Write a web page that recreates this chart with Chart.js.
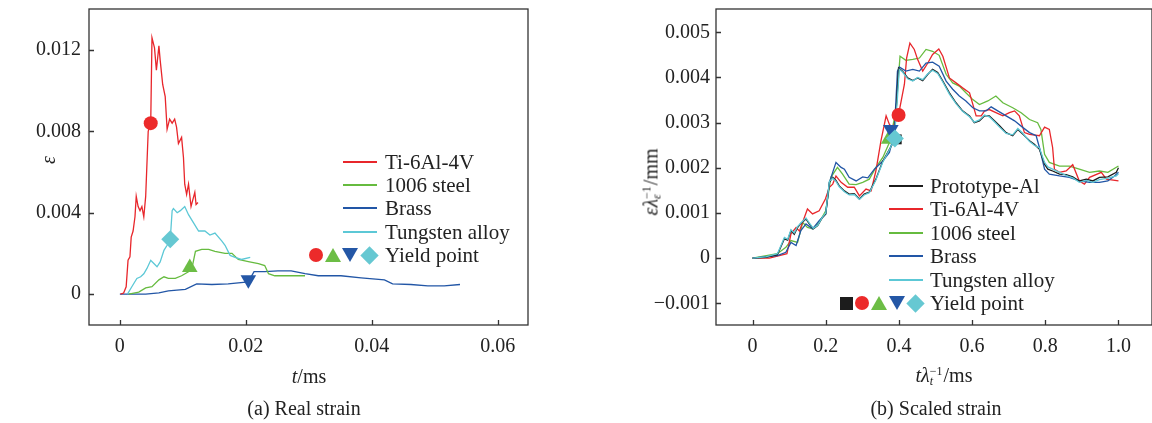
<!DOCTYPE html>
<html>
<head>
<meta charset="utf-8">
<script src="https://cdn.jsdelivr.net/npm/chart.js@4.4.0/dist/chart.umd.min.js"></script>
<style>
  body { margin: 0; width: 1152px; height: 423px; overflow: hidden; position: relative; background: #fff;
         font-family: 'Liberation Serif', 'Times New Roman', serif; color: #222; }
  canvas { position: absolute; top: 0; }
  .txt { position: absolute; font-size: 20px; line-height: 20px; white-space: nowrap; transform: translate(-50%, -50%); }
  .rot { transform: translate(-50%, -50%) rotate(-90deg); }
  .ss { display: inline-flex; flex-direction: column; font-size: 12px; line-height: 10px; vertical-align: 7px; margin-right: 1px; }
  .leg { position: absolute; font-size: 21px; line-height: 20px; white-space: nowrap; }
  .swatch { position: absolute; height: 2px; width: 34px; }
  .mk { position: absolute; }
</style>
</head>
<body>
<canvas id="chartA" width="560" height="423" style="left:0"></canvas>
<canvas id="chartB" width="561" height="423" style="left:600px"></canvas>

<div class="txt rot" style="left:48px;top:160px"><i>ε</i></div>
<div class="txt" style="left:309px;top:376px"><i>t</i>/ms</div>
<div class="txt" style="left:304px;top:408px">(a) Real strain</div>

<div class="txt rot" style="left:651px;top:182px"><i>ε</i><i>λ</i><span class="ss"><span>−1</span><span><i>ε</i></span></span>/mm</div>
<div class="txt" style="left:944px;top:375px"><i>t</i><i>λ</i><span class="ss"><span>−1</span><span><i>t</i></span></span>/ms</div>
<div class="txt" style="left:936px;top:408px">(b) Scaled strain</div>

<div id="legends"></div>

<script>
// ---- (a) real strain, t in ms ----
const tiA_t = [0.0001, 0.0006, 0.0010, 0.0013, 0.0016, 0.0018, 0.0021, 0.0024, 0.0026, 0.0029, 0.0032, 0.0035, 0.0038, 0.0041, 0.0045, 0.0049, 0.0051, 0.0055, 0.0058, 0.0062, 0.0064, 0.0068, 0.0072, 0.0075, 0.0079, 0.0083, 0.0087, 0.0090, 0.0093, 0.0098, 0.0101, 0.0103, 0.0106, 0.0109, 0.0113, 0.0119, 0.0121, 0.0124]
const tiA_e = [0, 0.00005, 0.00036, 0.00166, 0.00183, 0.0028, 0.0031, 0.0038, 0.0048, 0.0043, 0.0041, 0.0043, 0.0038, 0.0048, 0.0080, 0.0084, 0.0126, 0.0121, 0.0110, 0.0122, 0.0115, 0.0103, 0.0097, 0.0081, 0.0086, 0.0084, 0.0086, 0.0082, 0.0074, 0.0077, 0.0067, 0.0054, 0.0049, 0.0054, 0.0043, 0.0050, 0.0044, 0.0045]

const steelA_t = [0.0014, 0.0030, 0.0041, 0.0051, 0.0062, 0.0070, 0.0077, 0.0088, 0.0098, 0.0109, 0.0114, 0.0120, 0.0130, 0.0141, 0.0151, 0.0167, 0.0178, 0.0188, 0.0204, 0.0220, 0.0230, 0.0236, 0.0246, 0.0262, 0.0283, 0.0294]
const steelA_e = [0, 0.0001, 0.0003, 0.00036, 0.0007, 0.00085, 0.00077, 0.00077, 0.0009, 0.0011, 0.0012, 0.0021, 0.0022, 0.0022, 0.0021, 0.0020, 0.0020, 0.0017, 0.0016, 0.0015, 0.0014, 0.0010, 0.0009, 0.0009, 0.0009, 0.0009]

const brassA_t = [0, 0.0041, 0.0062, 0.0077, 0.0104, 0.0122, 0.0146, 0.0172, 0.0204, 0.0213, 0.0230, 0.0251, 0.0272, 0.0294, 0.0315, 0.0351, 0.0383, 0.0420, 0.0433, 0.0462, 0.0489, 0.0515, 0.0540]
const brassA_e = [0, 0, 0.00006, 0.00016, 0.00023, 0.0005, 0.00047, 0.0005, 0.0006, 0.0011, 0.0011, 0.00114, 0.00114, 0.0010, 0.0009, 0.0009, 0.0008, 0.0007, 0.0005, 0.00047, 0.0004, 0.0004, 0.00047]

const tungA_t = [0.0012, 0.0019, 0.0027, 0.0033, 0.0038, 0.0043, 0.0049, 0.0054, 0.0059, 0.0064, 0.0070, 0.0075, 0.0080, 0.0083, 0.0085, 0.0091, 0.0096, 0.0103, 0.0109, 0.0117, 0.0125, 0.0135, 0.0143, 0.0151, 0.0162, 0.0167, 0.0175, 0.0183, 0.0193, 0.0207]
const tungA_e = [0, 0.00036, 0.00077, 0.00085, 0.0010, 0.00126, 0.00166, 0.0015, 0.00134, 0.00158, 0.00215, 0.0024, 0.00268, 0.0041, 0.0042, 0.0040, 0.0041, 0.0043, 0.0039, 0.0035, 0.0031, 0.0031, 0.0029, 0.0030, 0.0026, 0.0024, 0.0019, 0.0018, 0.0017, 0.0018]

// yield points (a): Ti-6Al-4V, 1006 steel, Brass, Tungsten alloy
const yieldA_t = [0.0049, 0.0111, 0.0204, 0.0080]
const yieldA_e = [0.0084, 0.0013, 0.0007, 0.0027]

const xTicksA = [0, 0.02, 0.04, 0.06]
const xLabelsA = ['0', '0.02', '0.04', '0.06']
const yTicksA = [0, 0.004, 0.008, 0.012]
const yLabelsA = ['0', '0.004', '0.008', '0.012']

// ---- (b) scaled strain ----
const protoB_x = [0, 0.036, 0.068, 0.087, 0.096, 0.105, 0.114, 0.123, 0.132, 0.146, 0.155, 0.166, 0.178, 0.191, 0.2, 0.210, 0.219, 0.228, 0.237, 0.251, 0.264, 0.278, 0.292, 0.305, 0.319, 0.337, 0.356, 0.374, 0.387, 0.394, 0.399, 0.410, 0.424, 0.438, 0.451, 0.465, 0.479, 0.492, 0.506, 0.520, 0.538, 0.556, 0.574, 0.593, 0.606, 0.620, 0.634, 0.647, 0.661, 0.675, 0.693, 0.711, 0.725, 0.739, 0.757, 0.770, 0.784, 0.798, 0.807, 0.820, 0.839, 0.857, 0.875, 0.893, 0.912, 0.930, 0.948, 0.971, 0.994, 1.0]
const protoB_y = [0, 0.00002, 0.00008, 0.00043, 0.00040, 0.00061, 0.00053, 0.00068, 0.00077, 0.00087, 0.00076, 0.00065, 0.00072, 0.0009, 0.00098, 0.00168, 0.00179, 0.00172, 0.0016, 0.00149, 0.00142, 0.00143, 0.00131, 0.00142, 0.00146, 0.00175, 0.00215, 0.00241, 0.0026, 0.00348, 0.00421, 0.00414, 0.00399, 0.00393, 0.00399, 0.00393, 0.00407, 0.00418, 0.00411, 0.00392, 0.00366, 0.00344, 0.00326, 0.00315, 0.00300, 0.00304, 0.00315, 0.00315, 0.00304, 0.00293, 0.00278, 0.00271, 0.00285, 0.00274, 0.0026, 0.00252, 0.00241, 0.00208, 0.00197, 0.00193, 0.00186, 0.00185, 0.0018, 0.00171, 0.00175, 0.00171, 0.00179, 0.0018, 0.0019, 0.00200]

const tiB_x = [0, 0.046, 0.094, 0.105, 0.119, 0.128, 0.150, 0.164, 0.182, 0.199, 0.210, 0.219, 0.228, 0.242, 0.260, 0.278, 0.292, 0.310, 0.324, 0.337, 0.351, 0.365, 0.374, 0.383, 0.399, 0.415, 0.421, 0.430, 0.442, 0.451, 0.465, 0.479, 0.492, 0.509, 0.520, 0.538, 0.556, 0.574, 0.593, 0.611, 0.625, 0.634, 0.647, 0.665, 0.684, 0.702, 0.716, 0.729, 0.743, 0.757, 0.784, 0.798, 0.811, 0.820, 0.825, 0.839, 0.857, 0.875, 0.893, 0.907, 0.921, 0.953, 0.967, 1.0]
const tiB_y = [0, 0, 0.0001, 0.00054, 0.00068, 0.0006, 0.00109, 0.00098, 0.00105, 0.00131, 0.00157, 0.00164, 0.00182, 0.00168, 0.00157, 0.00157, 0.00138, 0.00153, 0.00149, 0.00193, 0.0026, 0.00315, 0.00296, 0.00289, 0.00318, 0.00385, 0.00443, 0.00476, 0.00462, 0.0044, 0.00414, 0.00432, 0.00451, 0.00463, 0.00447, 0.00399, 0.00388, 0.00377, 0.00366, 0.00315, 0.00315, 0.00326, 0.00329, 0.00322, 0.00315, 0.00322, 0.00326, 0.00315, 0.00278, 0.00274, 0.00271, 0.0029, 0.00285, 0.00245, 0.00197, 0.0019, 0.00193, 0.00207, 0.00171, 0.00164, 0.00179, 0.0019, 0.00175, 0.00171]

const steelB_x = [0, 0.068, 0.091, 0.105, 0.123, 0.137, 0.150, 0.164, 0.182, 0.2, 0.214, 0.232, 0.246, 0.264, 0.283, 0.301, 0.319, 0.337, 0.356, 0.374, 0.392, 0.403, 0.419, 0.438, 0.456, 0.474, 0.492, 0.510, 0.529, 0.547, 0.565, 0.583, 0.602, 0.620, 0.643, 0.665, 0.684, 0.711, 0.734, 0.757, 0.779, 0.788, 0.798, 0.811, 0.839, 0.866, 0.893, 0.921, 0.948, 0.971, 1.0]
const steelB_y = [0, 0.0001, 0.00024, 0.00039, 0.00035, 0.00079, 0.00068, 0.00065, 0.00079, 0.00105, 0.00179, 0.00201, 0.00186, 0.00164, 0.00163, 0.00168, 0.00175, 0.00201, 0.00223, 0.00256, 0.00326, 0.00447, 0.00438, 0.0044, 0.00443, 0.00462, 0.00458, 0.00449, 0.00407, 0.00388, 0.00381, 0.00366, 0.00351, 0.0034, 0.00348, 0.00359, 0.00344, 0.00333, 0.00322, 0.00307, 0.003, 0.00285, 0.0023, 0.00212, 0.00204, 0.00204, 0.00197, 0.0019, 0.00193, 0.0019, 0.00204]

const brassB_x = [0, 0.068, 0.091, 0.105, 0.119, 0.132, 0.146, 0.164, 0.182, 0.2, 0.210, 0.228, 0.242, 0.251, 0.264, 0.283, 0.301, 0.315, 0.333, 0.356, 0.374, 0.387, 0.396, 0.401, 0.419, 0.438, 0.456, 0.474, 0.492, 0.510, 0.529, 0.547, 0.565, 0.583, 0.602, 0.620, 0.638, 0.652, 0.670, 0.693, 0.716, 0.739, 0.757, 0.775, 0.784, 0.798, 0.811, 0.839, 0.866, 0.893, 0.921, 0.948, 0.971, 0.989, 1.0]
const brassB_y = [0, 0.00006, 0.00013, 0.00035, 0.00028, 0.00061, 0.00076, 0.00065, 0.00083, 0.00098, 0.00168, 0.00212, 0.00201, 0.00197, 0.00179, 0.00171, 0.0018, 0.00178, 0.00197, 0.00215, 0.00234, 0.00274, 0.00414, 0.00423, 0.00414, 0.00418, 0.00414, 0.00432, 0.00434, 0.00425, 0.00392, 0.00374, 0.00359, 0.00348, 0.00333, 0.00326, 0.00326, 0.00335, 0.00326, 0.00315, 0.00304, 0.00289, 0.00278, 0.00271, 0.00245, 0.00197, 0.00186, 0.00182, 0.00179, 0.00171, 0.00168, 0.00168, 0.00171, 0.00182, 0.0019]

const tungB_x = [0, 0.036, 0.068, 0.087, 0.096, 0.105, 0.114, 0.123, 0.132, 0.146, 0.155, 0.166, 0.178, 0.191, 0.2, 0.210, 0.219, 0.228, 0.237, 0.251, 0.264, 0.278, 0.292, 0.305, 0.319, 0.337, 0.356, 0.374, 0.387, 0.396, 0.401, 0.410, 0.424, 0.438, 0.451, 0.465, 0.479, 0.492, 0.506, 0.520, 0.538, 0.556, 0.574, 0.593, 0.606, 0.620, 0.634, 0.647, 0.661, 0.675, 0.693, 0.711, 0.725, 0.739, 0.757, 0.770, 0.784, 0.798, 0.807, 0.820, 0.839, 0.857, 0.875, 0.893, 0.912, 0.930, 0.948, 0.971, 0.994, 1.0]
const tungB_y = [0, 0.00003, 0.0001, 0.00046, 0.00042, 0.00063, 0.00056, 0.0007, 0.00078, 0.00089, 0.00078, 0.00066, 0.00073, 0.00091, 0.001, 0.0017, 0.00177, 0.0017, 0.00158, 0.00147, 0.0014, 0.00141, 0.0013, 0.0014, 0.00145, 0.00173, 0.00213, 0.0024, 0.00262, 0.00355, 0.00418, 0.00412, 0.00397, 0.00392, 0.004, 0.00395, 0.00408, 0.00416, 0.00409, 0.0039, 0.00363, 0.00342, 0.00325, 0.00313, 0.00301, 0.00306, 0.00317, 0.00313, 0.00302, 0.0029, 0.00276, 0.00273, 0.00287, 0.00276, 0.00258, 0.0025, 0.00244, 0.00212, 0.00202, 0.00197, 0.0019, 0.00183, 0.00178, 0.00168, 0.00172, 0.00168, 0.00174, 0.00177, 0.00182, 0.00187]

// yield points (b): Prototype-Al, Ti-6Al-4V, 1006 steel, Brass, Tungsten alloy
const yieldB_x = [0.394, 0.399, 0.372, 0.378, 0.389]
const yieldB_y = [0.00263, 0.00317, 0.00263, 0.00285, 0.00265]

const xTicksB = [0, 0.2, 0.4, 0.6, 0.8, 1.0]
const xLabelsB = ['0', '0.2', '0.4', '0.6', '0.8', '1.0']
const yTicksB = [-0.001, 0, 0.001, 0.002, 0.003, 0.004, 0.005]
const yLabelsB = ['\u22120.001', '0', '0.001', '0.002', '0.003', '0.004', '0.005']

// colours
const colors = {
  black: '#1c1c1c',
  red: '#e8262b',
  green: '#66bb3f',
  blue: '#2256a6',
  cyan: '#5cc8d6'
}
const markerColors = {
  black: '#1c1c1c',
  red: '#ec2a2a',
  green: '#6cbd45',
  blue: '#2457a6',
  cyan: '#66c8d2'
}

const fontFamily = "'Liberation Serif', 'Times New Roman', serif"

// zips two arrays into chart points
function pts(xs, ys) {
  return xs.map((x, i) => ({ x, y: ys[i] }))
}

function lineSet(label, xs, ys, color) {
  return {
    label,
    data: pts(xs, ys),
    borderColor: color,
    borderWidth: 1.3,
    pointRadius: 0,
    tension: 0,
    showLine: true,
    fill: false
  }
}

function markerSet(x, y, color, style, radius, rotation) {
  return {
    data: [{ x, y }],
    showLine: false,
    pointStyle: style,
    pointRadius: radius,
    pointRotation: rotation || 0,
    pointBackgroundColor: color,
    pointBorderColor: color,
    pointBorderWidth: 0
  }
}

// draws box round the plot and inward tick marks
const frameTicks = {
  id: 'frameTicks',
  afterDraw(chart) {
    const { ctx, chartArea: a, scales } = chart
    ctx.save()
    ctx.strokeStyle = '#333'
    ctx.lineWidth = 1.3
    ctx.strokeRect(a.left, a.top, a.right - a.left, a.bottom - a.top)
    ctx.beginPath()
    scales.x.ticks.forEach((t) => {
      const px = Math.round(scales.x.getPixelForValue(t.value)) + 0.5
      ctx.moveTo(px, a.bottom)
      ctx.lineTo(px, a.bottom - 5)
    })
    scales.y.ticks.forEach((t) => {
      const py = Math.round(scales.y.getPixelForValue(t.value)) + 0.5
      ctx.moveTo(a.left, py)
      ctx.lineTo(a.left + 5, py)
    })
    ctx.stroke()
    ctx.restore()
  }
}

function axis(min, max, ticks, labels, size, padding, horizontal) {
  return {
    type: 'linear',
    min,
    max,
    grid: { display: false, drawTicks: false },
    border: { display: false },
    afterBuildTicks: (s) => { s.ticks = ticks.map(v => ({ value: v })) },
    afterFit: (s) => {
      if (horizontal) s.height = size
      else s.width = size
      // keep the plot box where the reference has it
      s.paddingLeft = 0
      s.paddingRight = 0
      s.paddingTop = 0
      s.paddingBottom = 0
    },
    ticks: {
      autoSkip: false,
      maxRotation: 0,
      padding,
      color: '#222',
      font: { family: fontFamily, size: 20 },
      callback: v => labels[ticks.indexOf(v)]
    }
  }
}

function baseOptions(padRight, xScale, yScale) {
  return {
    responsive: false,
    devicePixelRatio: 1,
    animation: false,
    layout: { padding: { left: 0, right: padRight, top: 8, bottom: 0 } },
    plugins: { legend: { display: false }, tooltip: { enabled: false } },
    scales: { x: xScale, y: yScale }
  }
}

// (a) first dataset drawn on top
new Chart(document.getElementById('chartA'), {
  type: 'scatter',
  data: {
    datasets: [
      markerSet(yieldA_t[3], yieldA_e[3], markerColors.cyan, 'rectRot', 9),
      markerSet(yieldA_t[0], yieldA_e[0], markerColors.red, 'circle', 7),
      markerSet(yieldA_t[1], yieldA_e[1], markerColors.green, 'triangle', 9),
      markerSet(yieldA_t[2], yieldA_e[2], markerColors.blue, 'triangle', 9, 180),
      lineSet('Ti-6Al-4V', tiA_t, tiA_e, colors.red),
      lineSet('Tungsten alloy', tungA_t, tungA_e, colors.cyan),
      lineSet('1006 steel', steelA_t, steelA_e, colors.green),
      lineSet('Brass', brassA_t, brassA_e, colors.blue)
    ]
  },
  options: baseOptions(32,
    axis(-0.0049, 0.0648, xTicksA, xLabelsA, 98, 10, true),
    axis(-0.00152, 0.01401, yTicksA, yLabelsA, 89, 8, false)),
  plugins: [frameTicks]
})

// (b) plot box runs to the right edge of the picture
new Chart(document.getElementById('chartB'), {
  type: 'scatter',
  data: {
    datasets: [
      markerSet(yieldB_x[4], yieldB_y[4], markerColors.cyan, 'rectRot', 9),
      markerSet(yieldB_x[1], yieldB_y[1], markerColors.red, 'circle', 7),
      markerSet(yieldB_x[3], yieldB_y[3], markerColors.blue, 'triangle', 9, 180),
      markerSet(yieldB_x[2], yieldB_y[2], markerColors.green, 'triangle', 9),
      markerSet(yieldB_x[0], yieldB_y[0], markerColors.black, 'rect', 7),
      lineSet('Tungsten alloy', tungB_x, tungB_y, colors.cyan),
      lineSet('Prototype-Al', protoB_x, protoB_y, colors.black),
      lineSet('Brass', brassB_x, brassB_y, colors.blue),
      lineSet('Ti-6Al-4V', tiB_x, tiB_y, colors.red),
      lineSet('1006 steel', steelB_x, steelB_y, colors.green)
    ]
  },
  options: baseOptions(1,
    axis(-0.0999, 1.0916, xTicksB, xLabelsB, 98, 10, true),
    axis(-0.001478, 0.005515, yTicksB, yLabelsB, 116, 6, false)),
  plugins: [frameTicks]
})

// legends as html text
const legendA = [['Ti-6Al-4V', 'red'], ['1006 steel', 'green'], ['Brass', 'blue'], ['Tungsten alloy', 'cyan']]
const legendB = [['Prototype-Al', 'black'], ['Ti-6Al-4V', 'red'], ['1006 steel', 'green'], ['Brass', 'blue'], ['Tungsten alloy', 'cyan']]
const yieldMarksA = [['circle', 'red'], ['up', 'green'], ['down', 'blue'], ['diamond', 'cyan']]
const yieldMarksB = [['square', 'black'], ['circle', 'red'], ['up', 'green'], ['down', 'blue'], ['diamond', 'cyan']]

function markerHtml(kind, color, cx, cy) {
  const c = markerColors[color]
  if (kind === 'circle') return `<div class="mk" style="left:${cx - 7}px;top:${cy - 7}px;width:14px;height:14px;border-radius:50%;background:${c}"></div>`
  if (kind === 'square') return `<div class="mk" style="left:${cx - 6.5}px;top:${cy - 6.5}px;width:13px;height:13px;background:${c}"></div>`
  if (kind === 'diamond') return `<div class="mk" style="left:${cx - 6.5}px;top:${cy - 6.5}px;width:13px;height:13px;background:${c};transform:rotate(45deg)"></div>`
  if (kind === 'up') return `<div class="mk" style="left:${cx - 8}px;top:${cy - 7}px;width:0;height:0;border-left:8px solid transparent;border-right:8px solid transparent;border-bottom:14px solid ${c}"></div>`
  return `<div class="mk" style="left:${cx - 8}px;top:${cy - 7}px;width:0;height:0;border-left:8px solid transparent;border-right:8px solid transparent;border-top:14px solid ${c}"></div>`
}

function buildLegend(items, marks, lineX, textX, rowY, rowGap, markX) {
  let html = ''
  items.forEach(([name, color], i) => {
    const y = Math.round(rowY + i * rowGap)
    html += `<div class="swatch" style="left:${lineX}px;top:${y - 1}px;background:${colors[color]}"></div>`
    html += `<div class="leg" style="left:${textX}px;top:${y - 10}px">${name}</div>`
  })
  const y = Math.round(rowY + items.length * rowGap)
  marks.forEach(([kind, color], i) => { html += markerHtml(kind, color, markX[i], y) })
  html += `<div class="leg" style="left:${textX}px;top:${y - 10}px">Yield point</div>`
  return html
}

document.getElementById('legends').innerHTML =
  buildLegend(legendA, yieldMarksA, 343, 385, 162, 23.2, [316, 333, 350, 369]) +
  buildLegend(legendB, yieldMarksB, 889, 930, 186, 23.4, [846, 862, 879, 897, 915])
</script>
</body>
</html>
